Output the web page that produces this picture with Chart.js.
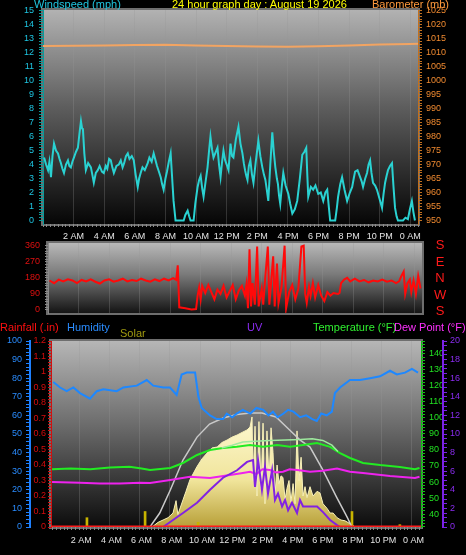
<!DOCTYPE html>
<html lang="en">
<head>
<meta charset="UTF-8">
<title>24 hour graph day</title>
<style>
  body { margin: 0; background: #000; width: 466px; height: 555px; overflow: hidden; position: relative; font-family: 'Liberation Sans', Arial, sans-serif; }
  canvas { position: absolute; left: 0; z-index: 1; }
  .lbl { position: absolute; font-size: 11px; line-height: 12px; white-space: nowrap; z-index: 2; }
  .dir { position: absolute; left: 434px; width: 12px; text-align: center; color: #ff1a1a; font-size: 13px; line-height: 14px; z-index: 2; }
</style>
<script src="https://cdn.jsdelivr.net/npm/chart.js"></script>
</head>
<body>
<div class="lbl" style="left:34px;top:-2px;color:#1fc6e0">Windspeed (mph)</div>
<div class="lbl" style="left:172px;top:-2px;color:#ffff00">24 hour graph day : August 19 2026</div>
<div class="lbl" style="left:372px;top:-2px;color:#ff9a3c">Barometer (mb)</div>

<div class="dir" style="top:238px">S</div>
<div class="dir" style="top:255px">E</div>
<div class="dir" style="top:271px">N</div>
<div class="dir" style="top:288px">W</div>
<div class="dir" style="top:304px">S</div>

<div class="lbl" style="left:0px;top:321px;color:#ff1010">Rainfall (.in)</div>
<div class="lbl" style="left:67px;top:321px;color:#2a8cff">Humidity</div>
<div class="lbl" style="left:120px;top:327px;color:#a09a10">Solar</div>
<div class="lbl" style="left:247px;top:321px;color:#8a2cf0">UV</div>
<div class="lbl" style="left:313px;top:321px;color:#30f030">Temperature (°F)</div>
<div class="lbl" style="left:394px;top:321px;color:#ff30ff">Dew Point (°F)</div>

<canvas id="windChart" width="466" height="245" style="top:0"></canvas>
<canvas id="dirChart" width="466" height="80" style="top:240px"></canvas>
<canvas id="mainChart" width="466" height="219" style="top:336px"></canvas>

<script>
// ---- data (time in hours since midnight) ----
const hourLabels = ['2 AM', '4 AM', '6 AM', '8 AM', '10 AM', '12 PM', '2 PM', '4 PM', '6 PM', '8 PM', '10 PM', '0 AM'];

const windHours = [0.07, 0.2, 0.33, 0.42, 0.52, 0.62, 0.72, 0.85, 0.98, 1.08, 1.17, 1.27, 1.37, 1.5, 1.63, 1.72, 1.82, 1.92, 2.02, 2.15, 2.28, 2.38, 2.48, 2.55, 2.61, 2.7, 2.8, 2.95, 3.13, 3.22, 3.32, 3.45, 3.58, 3.7, 3.85, 3.97, 4.1, 4.2, 4.32, 4.43, 4.53, 4.63, 4.8, 4.95, 5.08, 5.2, 5.3, 5.42, 5.54, 5.65, 5.8, 5.93, 6.05, 6.19, 6.28, 6.38, 6.5, 6.65, 6.84, 6.95, 7.1, 7.23, 7.35, 7.45, 7.57, 7.69, 7.78, 7.88, 8.0, 8.1, 8.22, 8.34, 8.44, 8.53, 8.66, 9.0, 9.19, 9.3, 9.45, 9.55, 9.64, 9.84, 9.95, 10.1, 10.2, 10.3, 10.4, 10.49, 10.6, 10.75, 10.85, 10.94, 11.04, 11.14, 11.25, 11.4, 11.5, 11.6, 11.7, 11.79, 11.9, 12.0, 12.12, 12.25, 12.35, 12.44, 12.6, 12.77, 12.9, 13.03, 13.12, 13.2, 13.28, 13.36, 13.45, 13.55, 13.65, 13.75, 13.9, 14.07, 14.2, 14.33, 14.43, 14.53, 14.62, 14.72, 14.85, 14.98, 15.08, 15.18, 15.28, 15.35, 15.42, 15.5, 15.6, 15.7, 15.85, 16.03, 16.15, 16.29, 16.45, 16.61, 16.78, 16.94, 17.07, 17.2, 17.27, 17.33, 17.5, 17.65, 17.8, 17.98, 18.15, 18.31, 18.45, 18.57, 18.68, 18.76, 19.09, 19.2, 19.28, 19.42, 19.54, 19.7, 19.87, 20.05, 20.2, 20.3, 20.39, 20.55, 20.72, 20.82, 20.91, 21.05, 21.17, 21.27, 21.37, 21.46, 21.56, 21.7, 21.82, 22.0, 22.15, 22.25, 22.35, 22.45, 22.54, 22.67, 22.8, 22.9, 23.0, 23.1, 23.19, 23.52, 23.68, 23.84, 23.97, 24.1, 24.2, 24.3];
const windMph = [4.5, 4.0, 3.6, 4.2, 3.1, 4.6, 5.5, 5.0, 4.8, 4.4, 4.1, 3.7, 3.4, 4.0, 4.3, 3.9, 3.8, 4.2, 4.5, 4.9, 5.2, 6.2, 7.1, 6.6, 6.5, 4.8, 3.6, 4.1, 3.8, 3.3, 2.7, 3.4, 3.6, 3.9, 3.5, 3.4, 3.9, 3.7, 4.4, 4.3, 3.8, 3.4, 3.9, 4.0, 4.3, 3.8, 4.1, 4.6, 4.8, 4.4, 4.6, 4.3, 3.3, 2.4, 3.0, 3.4, 3.8, 3.6, 4.1, 4.5, 4.2, 4.8, 4.3, 3.9, 3.5, 3.1, 2.6, 2.2, 3.0, 3.5, 4.2, 4.8, 3.0, 1.4, 0, 0, 0, 0.4, 0.7, 0.3, 0, 0, 1.2, 2.4, 2.9, 3.2, 2.3, 1.7, 2.6, 3.8, 5.0, 6.0, 5.1, 4.5, 4.8, 5.2, 4.0, 3.1, 4.2, 5.0, 4.3, 4.0, 3.6, 5.5, 4.6, 4.5, 5.8, 6.7, 5.5, 4.8, 4.1, 3.6, 3.2, 2.9, 3.9, 4.3, 3.3, 2.7, 4.2, 5.7, 4.6, 3.8, 3.3, 2.9, 2.2, 1.4, 4.0, 6.3, 4.9, 3.8, 3.0, 2.6, 1.8, 1.2, 2.4, 3.4, 2.5, 1.9, 1.2, 0.5, 0.8, 1.4, 3.0, 4.7, 4.9, 5.2, 3.2, 1.7, 2.4, 2.2, 2.5, 1.9, 2.0, 1.4, 2.0, 2.2, 0.9, 0, 0, 0.9, 1.7, 2.6, 3.1, 2.2, 1.4, 2.0, 2.4, 3.0, 3.5, 3.6, 3.1, 2.8, 2.4, 3.0, 3.4, 4.0, 4.3, 3.4, 2.7, 2.5, 2.2, 1.5, 0.9, 1.9, 2.7, 3.2, 3.6, 3.9, 4.1, 2.4, 0.9, 0.3, 0, 0, 0.2, 0.1, 0.8, 1.4, 0.6, 0];

const baroHours = [0, 2, 4, 6, 8, 10, 12, 14, 16, 18, 20, 22, 24, 24.5];
const baroMb = [1012.4, 1012.5, 1012.6, 1012.7, 1012.8, 1012.6, 1012.4, 1012.2, 1012.1, 1012.3, 1012.6, 1012.9, 1013.1, 1013.2];

const dirHours = [0.1, 0.4, 0.7, 1.0, 1.3, 1.6, 1.9, 2.2, 2.5, 2.8, 3.1, 3.4, 3.7, 4.0, 4.3, 4.6, 4.9, 5.2, 5.5, 5.8, 6.1, 6.4, 6.7, 7.0, 7.3, 7.6, 7.9, 8.2, 8.4, 8.5, 8.6, 9.0, 9.4, 9.7, 9.8, 9.9, 10.0, 10.1, 10.3, 10.5, 10.7, 10.9, 11.1, 11.3, 11.5, 11.7, 11.9, 12.1, 12.3, 12.5, 12.7, 12.9, 13.0, 13.1, 13.2, 13.3, 13.4, 13.55, 13.7, 13.8, 14.0, 14.1, 14.25, 14.4, 14.5, 14.75, 14.85, 15.0, 15.1, 15.3, 15.5, 15.6, 15.8, 16.0, 16.2, 16.4, 16.6, 16.75, 16.85, 16.95, 17.1, 17.2, 17.35, 17.5, 17.7, 17.9, 18.1, 18.3, 18.5, 18.7, 19.0, 19.1, 19.2, 19.4, 19.6, 19.8, 20.1, 20.4, 20.7, 21.0, 21.3, 21.6, 21.9, 22.2, 22.5, 22.8, 23.0, 23.15, 23.3, 23.4, 23.55, 23.7, 23.8, 23.95, 24.1, 24.25, 24.4];
const dirDeg = [165, 150, 170, 160, 172, 165, 150, 168, 160, 172, 158, 148, 165, 172, 158, 165, 175, 160, 168, 162, 175, 165, 158, 172, 162, 175, 165, 178, 168, 250, 15, 10, 3, 5, 80, 125, 60, 135, 95, 140, 100, 60, 115, 90, 135, 70, 105, 140, 60, 110, 135, 80, 140, 10, 340, 20, 150, 30, 355, 20, 120, 30, 200, 355, 30, 300, 20, 260, 40, 130, 360, 10, 100, 140, 60, 120, 355, 360, 90, 40, 130, 80, 150, 70, 140, 80, 50, 100, 80, 95, 90, 95, 150, 170, 180, 160, 175, 160, 168, 155, 165, 160, 170, 158, 165, 150, 160, 190, 215, 90, 150, 170, 100, 165, 90, 190, 120];

const humHours = [0.15, 0.6, 1.04, 1.48, 1.92, 2.58, 3.03, 3.47, 4.35, 4.79, 5.68, 6.34, 6.77, 7.44, 7.88, 8.32, 8.65, 8.99, 9.54, 9.76, 9.98, 10.53, 10.97, 11.4, 11.64, 12.0, 12.3, 12.7, 13.2, 13.6, 14.06, 14.4, 14.7, 15.0, 15.4, 15.7, 16.05, 16.5, 16.9, 17.3, 17.6, 17.9, 18.26, 18.6, 18.8, 19.14, 19.8, 20.46, 21.13, 21.79, 22.45, 22.9, 23.44, 23.9, 24.3];
const humPct = [78, 75, 73, 75, 72, 69, 73, 74, 73, 75, 76, 79, 76, 75, 75, 71, 82, 83, 83, 70, 64, 60, 58, 58, 61, 59, 61, 63, 61, 64, 63, 60, 62, 59, 61, 63, 62, 59, 60, 58, 57, 61, 60, 62, 72, 75, 79, 79, 80, 81, 84, 82, 83, 85, 83];

const tempHours = [0.07, 1.3, 2.6, 3.9, 5.2, 6.0, 6.56, 7.9, 8.74, 9.67, 10.53, 11.39, 12.3, 13.18, 14.04, 14.97, 15.83, 16.69, 17.62, 18.48, 19.14, 19.8, 20.66, 21.8, 23.1, 24.1, 24.4];
const tempF = [68, 68.5, 68, 69, 69.5, 68.5, 67.5, 68.8, 71.9, 76.9, 80, 81.3, 82, 83.1, 82, 83.1, 82, 83.1, 84.4, 82, 78, 75, 71.9, 70.6, 69.4, 68, 68.8];

const feelsHours = [11.3, 12.0, 12.7, 13.5, 14.5, 15.5, 16.5, 17.3, 18.0, 18.6, 19.0];
const feelsF = [81.3, 83, 85, 85.5, 86, 86.3, 86.5, 87, 86, 83, 79];

const dewHours = [0.07, 1.92, 3.24, 4.57, 5.9, 6.56, 7.9, 9.2, 10.53, 11.85, 12.6, 13.18, 13.6, 14.0, 14.5, 14.9, 15.36, 15.8, 16.3, 17.15, 18.0, 18.94, 19.8, 20.66, 22.45, 24.1, 24.4];
const dewF = [60, 59.5, 59, 59, 59.5, 59.4, 61.3, 63.3, 62.5, 64.4, 65.5, 66.4, 65, 68, 67.5, 66, 66.4, 68, 67.5, 66.4, 67, 68.5, 66.4, 65.6, 63.8, 62.5, 63.3];

const uvHours = [7.42, 8.08, 8.74, 9.67, 10.53, 11.39, 12.32, 12.98, 13.38, 13.51, 13.71, 13.97, 14.17, 14.37, 14.64, 14.83, 15.03, 15.3, 15.5, 15.7, 15.96, 16.29, 16.49, 16.69, 17.15, 17.62, 18.01, 18.48, 18.94, 19.14];
const uvIndex = [0, 0.75, 1.5, 2.6, 4, 5.3, 6.1, 7.0, 7.2, 4.3, 7.2, 4.0, 6.5, 3.6, 6.1, 2.9, 3.6, 2.2, 2.9, 1.8, 2.6, 1.5, 2.9, 2.2, 2.2, 2.2, 1.6, 0.75, 0.2, 0];

const solarHours = [6.69, 7.09, 7.42, 7.75, 8.08, 8.28, 8.4, 8.74, 8.94, 9.2, 9.67, 10.0, 10.33, 10.66, 11.0, 11.32, 11.66, 11.99, 12.32, 12.65, 12.98, 13.18, 13.31, 13.38, 13.51, 13.64, 13.77, 13.91, 14.04, 14.17, 14.3, 14.44, 14.57, 14.7, 14.83, 14.97, 15.1, 15.23, 15.36, 15.5, 15.63, 15.76, 15.89, 16.03, 16.16, 16.29, 16.42, 16.56, 16.69, 16.82, 16.95, 17.15, 17.35, 17.62, 17.81, 18.01, 18.28, 18.48, 18.68, 18.94, 19.2, 19.47, 19.74, 19.93, 20.13];
const solarWm2 = [0, 30, 45, 60, 90, 170, 80, 175, 230, 305, 390, 440, 477, 510, 516, 545, 561, 580, 593, 610, 626, 645, 710, 300, 650, 200, 680, 250, 670, 150, 620, 300, 640, 480, 200, 400, 280, 330, 320, 180, 250, 300, 160, 280, 150, 620, 300, 450, 200, 260, 190, 260, 200, 230, 220, 150, 120, 90, 90, 60, 45, 40, 25, 15, 0];

const solarMaxHours = [6.55, 7.2, 7.9, 8.74, 9.67, 10.5, 11.4, 12.3, 13.2, 13.97, 14.9, 15.8, 16.5, 17.15, 18.0, 18.9, 19.6, 19.93];
const solarMaxWm2 = [0, 90, 239, 432, 580, 664, 703, 726, 735, 735, 710, 626, 561, 516, 368, 194, 65, 0];

const rainHours = [0, 24.5];
const rainIn = [0, 0];

const markHours = [2.38, 6.23, 9.74, 19.93, 23.1];
const markWm2 = [60, 100, 30, 100, 15];

// ---- helpers ----
Chart.defaults.font.family = "'Liberation Sans', Arial, sans-serif";
Chart.defaults.font.size = 9;
Chart.defaults.animation = false;
Chart.defaults.responsive = false;
Chart.defaults.plugins.legend.display = false;
Chart.defaults.plugins.tooltip.enabled = false;

function pts(xs, ys) {
  return xs.map((x, i) => ({ x: x, y: ys[i] }));
}

function stepTicks(from, to, step) {
  const n = Math.round((to - from) / step);
  const out = [];
  for (let i = 0; i <= n; i++) out.push({ value: +(from + i * step).toFixed(4) });
  return out;
}

function isMultiple(v, every) {
  const r = v / every;
  return Math.abs(r - Math.round(r)) < 1e-6;
}

// labels hanging past the plot edge must not squeeze the plot area
function noPadding(s) {
  s.paddingTop = 0;
  s.paddingBottom = 0;
  s.paddingLeft = 0;
  s.paddingRight = 0;
}

// y axis with minor ticks, labels only every `every`
function yAxis(o) {
  return {
    position: o.position,
    min: o.min,
    max: o.max,
    weight: o.weight || 0,
    afterBuildTicks: s => { s.ticks = stepTicks(o.from, o.to, o.step); },
    afterFit: s => { s.width = o.width; noPadding(s); },
    border: { display: true, color: o.color, width: o.borderWidth || 1, dash: o.dash || [] },
    grid: { drawOnChartArea: false, tickLength: o.tickLength || 4, tickColor: o.color, tickWidth: 1 },
    ticks: {
      color: o.labelColor,
      autoSkip: false,
      padding: o.padding || 4,
      callback: v => isMultiple(v, o.every) ? (o.fmt ? o.fmt(v) : v) : ''
    }
  };
}

function timeAxis(height, showLabels, pad) {
  return {
    type: 'linear',
    min: 0,
    max: 24.5,
    offset: false,
    afterBuildTicks: s => { s.ticks = stepTicks(0, 24.5, 0.25); },
    afterFit: s => { s.height = height; noPadding(s); },
    border: { display: false },
    grid: {
      drawTicks: showLabels,
      tickLength: 3,
      tickColor: '#8a8a8a',
      color: c => (c.tick && isMultiple(c.tick.value, 2)) ? 'rgba(150,150,150,0.28)' : 'rgba(0,0,0,0)'
    },
    ticks: {
      display: showLabels,
      color: '#e4e4e4',
      autoSkip: false,
      maxRotation: 0,
      padding: pad || 3,
      callback: v => (v > 0 && isMultiple(v, 2)) ? hourLabels[v / 2 - 1] : ''
    }
  };
}

const panelBg = {
  id: 'panelBg',
  beforeDraw(chart, args, opts) {
    const { ctx, chartArea: a } = chart;
    const g = ctx.createLinearGradient(0, a.top, 0, a.bottom);
    g.addColorStop(0, opts.top);
    g.addColorStop(0.45, opts.mid);
    g.addColorStop(1, opts.bottom);
    ctx.save();
    ctx.fillStyle = g;
    ctx.fillRect(a.left, a.top, a.right - a.left, a.bottom - a.top);
    ctx.strokeStyle = '#6e6e6e';
    ctx.lineWidth = 2;
    ctx.strokeRect(a.left - 1, a.top - 1, a.right - a.left + 2, a.bottom - a.top + 2);
    ctx.restore();
  }
};

function line(data, color, width, axis, order) {
  return {
    data: data, borderColor: color, borderWidth: width, yAxisID: axis,
    pointRadius: 0, tension: 0, fill: false, order: order
  };
}

// ---- wind speed / barometer ----
new Chart(document.getElementById('windChart'), {
  type: 'line',
  data: {
    datasets: [
      line(pts(baroHours, baroMb), '#f2a462', 2, 'baro', 2),
      line(pts(windHours, windMph), '#2ad2d2', 2, 'wind', 1)
    ]
  },
  options: {
    layout: { padding: { top: 10, left: 0, right: 0, bottom: 0 } },
    scales: {
      x: timeAxis(21, true, 4),
      wind: yAxis({ position: 'left', min: -0.25, max: 15.05, from: 0, to: 15, step: 0.2, every: 1, width: 43, color: '#0a9a9a', labelColor: '#1ec6e2', padding: 5 }),
      baro: yAxis({ position: 'right', min: 948.75, max: 1025.25, from: 950, to: 1025, step: 1, every: 5, width: 48, color: '#c07020', labelColor: '#f08a30', padding: 4 })
    },
    plugins: { panelBg: { top: '#b2b2b2', mid: '#5e5e5e', bottom: '#060606' } }
  },
  plugins: [panelBg]
});

// ---- wind direction ----
new Chart(document.getElementById('dirChart'), {
  type: 'line',
  data: {
    datasets: [line(pts(dirHours, dirDeg), '#ff0a0a', 2, 'dir', 1)]
  },
  options: {
    layout: { padding: { top: 3, left: 0, right: 44, bottom: 7 } },
    scales: {
      x: timeAxis(0, false),
      dir: yAxis({ position: 'left', min: -17, max: 375, from: 0, to: 360, step: 15, every: 90, width: 48, color: '#8a8a8a', labelColor: '#e01010', tickLength: 3, padding: 5 })
    },
    plugins: { panelBg: { top: '#b8b8b8', mid: '#7a7a7a', bottom: '#141414' } }
  },
  plugins: [panelBg]
});

// ---- rain / humidity / solar / uv / temperature / dew point ----
function solarFill(c) {
  const a = c.chart.chartArea;
  if (!a) return 'rgba(240,228,150,0.9)';
  const g = c.chart.ctx.createLinearGradient(0, a.top + 70, 0, a.bottom);
  g.addColorStop(0, '#fffbd8');
  g.addColorStop(0.6, '#f0e49a');
  g.addColorStop(1, '#b8a038');
  return g;
}

new Chart(document.getElementById('mainChart'), {
  type: 'line',
  data: {
    datasets: [
      {
        data: pts(solarHours, solarWm2), yAxisID: 'solar', order: 10,
        borderColor: '#f8f0b8', borderWidth: 1, pointRadius: 0, tension: 0,
        fill: 'origin', backgroundColor: solarFill
      },
      {
        type: 'bar', data: pts(markHours, markWm2), yAxisID: 'solar', order: 9,
        backgroundColor: '#c8b400', barThickness: 2
      },
      line(pts(solarMaxHours, solarMaxWm2), '#c9c9c9', 1.5, 'solar', 8),
      line(pts(humHours, humPct), '#1e88ff', 2, 'hum', 6),
      line(pts(tempHours, tempF), '#22ec22', 2, 'temp', 5),
      line(pts(feelsHours, feelsF), '#9eea9e', 1.5, 'temp', 4),
      line(pts(dewHours, dewF), '#ee22ee', 2, 'temp', 3),
      line(pts(uvHours, uvIndex), '#8222e2', 2, 'uv', 2),
      line(pts(rainHours, rainIn), '#ff1a1a', 3, 'rain', 1)
    ]
  },
  options: {
    layout: { padding: { top: 5, left: 0, right: 0, bottom: 0 } },
    scales: {
      x: timeAxis(28, true, 5),
      rain: yAxis({ position: 'left', weight: 0, min: 0, max: 1.2, from: 0, to: 1.2, step: 0.02, every: 0.1, width: 21, color: '#d01010', labelColor: '#d80c0c', tickLength: 3, padding: 2, dash: [1, 1], fmt: v => String(Math.round(v * 10) / 10) }),
      hum: yAxis({ position: 'left', weight: 1, min: 0, max: 100, from: 0, to: 100, step: 2, every: 10, width: 30, color: '#1e80ff', labelColor: '#2a8cff', borderWidth: 2 }),
      temp: yAxis({ position: 'right', weight: 0, min: 31.9, max: 148.1, from: 32, to: 148, step: 2, every: 10, width: 22, color: '#10c010', labelColor: '#22e022', dash: [2, 1] }),
      uv: yAxis({ position: 'right', weight: 1, min: 0, max: 20, from: 0, to: 20, step: 0.5, every: 2, width: 23, color: '#7a22e6', labelColor: '#8a2cf0', borderWidth: 2, padding: 3 }),
      solar: { display: false, min: 0, max: 1200 }
    },
    plugins: { panelBg: { top: '#b6b6b6', mid: '#6c6c6c', bottom: '#0c0c0c' } }
  },
  plugins: [panelBg]
});
</script>
</body>
</html>
